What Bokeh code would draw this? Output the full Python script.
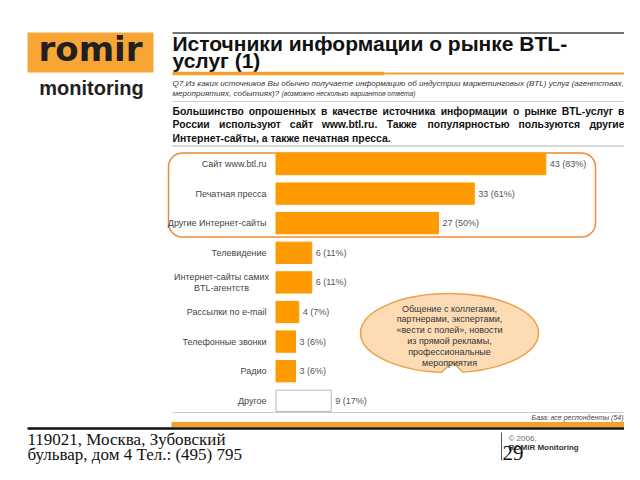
import numpy as np
from bokeh.plotting import figure
from bokeh.models import Range1d, ColumnDataSource
from bokeh.core.properties import value
from bokeh.embed import file_html
from bokeh.resources import INLINE

# ---------------- data ----------------
categories = ["Сайт www.btl.ru", "Печатная пресса", "Другие Интернет-сайты",
              "Телевидение", "Интернет-сайты самих\nBTL-агентств", "Рассылки по e-mail",
              "Телефонные звонки", "Радио", "Другое"]
counts = [43, 33, 27, 6, 6, 4, 3, 3, 9]
percents = [83, 61, 50, 11, 11, 7, 6, 6, 17]

title_lines = ["Источники информации о рынке BTL-", "услуг (1)"]
question_lines = ["Q7.Из каких источников Вы обычно получаете информацию об индустрии маркетинговых (BTL) услуг (агентствах,",
                  "мероприятиях, событиях)?"]
question_note = "(возможно несколько вариантов ответа)"
summary_lines = ["Большинство опрошенных в качестве источника информации о рынке BTL-услуг в",
                 "России используют сайт www.btl.ru. Также популярностью пользуются другие",
                 "Интернет-сайты, а также печатная пресса."]
bubble_lines = ["Общение с коллегами,", "партнерами, экспертами,", "«вести с полей», новости",
                "из прямой рекламы,", "профессиональные", "мероприятия"]
base_note = "База: все респонденты (54)"
address_lines = ["119021, Москва, Зубовский", "бульвар, дом 4 Тел.: (495) 795"]

SANS = value("Liberation Sans")
SERIF = value("Liberation Serif")
ORANGE = "#FF9900"
LINE_ORANGE = "#F5A02A"

# ---------------- page figure (data coords == picture pixels) ----------------
W, H = 624, 464
p = figure(width=W, height=H, output_backend="svg", toolbar_location=None,
           x_range=Range1d(0, W), y_range=Range1d(H, 0),
           x_axis_type=None, y_axis_type=None, min_border=0)
p.outline_line_color = None
p.grid.visible = False
p.background_fill_color = "white"
p.border_fill_color = "white"

# bar scales
X0, PXPCT = 275.5, 3.25
Y0, ROWH = 163.5, 29.6
p.extra_x_ranges = {"pct": Range1d((0 - X0) / PXPCT, (W - X0) / PXPCT)}
p.extra_y_ranges = {"row": Range1d((H - Y0) / ROWH, (0 - Y0) / ROWH)}

def mid(baseline, fs):
    # vertical centre used with text_baseline="middle" for a given baseline
    return baseline - 0.36 * fs

# ---- logo ----
p.quad(left=[27], right=[153], top=[32], bottom=[72], fill_color="#F7A535", line_color=None)
p.text(x=[90], y=[mid(61, 34)], text=["romir"], text_font=value("DejaVu Sans"), text_font_style="bold",
       text_font_size="34px", text_align="center", text_baseline="middle", text_color="#231F20")
p.text(x=[91], y=[mid(94.5, 20)], text=["monitoring"], text_font=SANS, text_font_style="bold",
       text_font_size="20px", text_align="center", text_baseline="middle", text_color="#231F20")

# ---- title area ----
p.segment(x0=[172], y0=[32.5], x1=[624], y1=[32.5], line_color="#444444", line_width=1.5)
p.text(x=[172, 172], y=[mid(50.5, 21), mid(68, 21)], text=title_lines, text_font=SANS,
       text_font_style="bold", text_font_size="21px", text_baseline="middle", text_color="#111111")
p.segment(x0=[172], y0=[73], x1=[384], y1=[73], line_color=LINE_ORANGE, line_width=3.5)
p.segment(x0=[384], y0=[73], x1=[624], y1=[73], line_color=LINE_ORANGE, line_width=2)
p.text(x=[172, 172], y=[83, 93], text=question_lines, text_font=SANS, text_font_style="italic",
       text_font_size="8.1px", text_baseline="middle", text_color="#333333")
p.text(x=[281], y=[93], text=[question_note], text_font=SANS, text_font_style="italic",
       text_font_size="6.8px", text_baseline="middle", text_color="#333333")
p.segment(x0=[172], y0=[101], x1=[624], y1=[101], line_color="#CCCCCC", line_width=1)

# justified bold summary (approximate Arial-bold advance widths, 1/1000 em)
WID = {}
WID.update(dict(zip("абвгдежзийклмнопрстуфхцчшщъыьэюя",
                    [556, 611, 578, 427, 633, 556, 833, 490, 611, 611, 510, 611, 730, 611, 611, 611,
                     611, 556, 474, 556, 889, 556, 633, 573, 889, 906, 719, 812, 573, 556, 858, 594])))
WID.update(dict(zip("abcdefghijklmnopqrstuvwxyz",
                    [556, 611, 556, 611, 556, 333, 611, 611, 278, 278, 556, 278, 889, 611, 611, 611,
                     611, 389, 556, 333, 611, 556, 778, 556, 556, 500])))
WID.update({"Б": 722, "И": 722, "Р": 667, "Т": 611, "B": 722, "T": 611, "L": 611,
            ".": 278, ",": 278, "-": 333})

def word_width(w, fs):
    return sum(WID.get(c, 600) for c in w) * fs / 1000.0

FS = 10.4
LEFT, RIGHT = 172, 624
sum_y = [110.5, 124, 137.5]
wx, wy, wt, wa = [], [], [], []
for k, line in enumerate(summary_lines):
    words = line.split(" ")
    if k < len(summary_lines) - 1:
        widths = [word_width(w, FS) for w in words]
        gap = (RIGHT - LEFT - sum(widths)) / (len(words) - 1)
        x = LEFT
        for j, w in enumerate(words):
            last = j == len(words) - 1
            wx.append(RIGHT if last else x)
            wy.append(sum_y[k])
            wt.append(w)
            wa.append("right" if last else "left")
            x += widths[j] + gap
    else:
        wx.append(LEFT); wy.append(sum_y[k]); wt.append(line); wa.append("left")
p.text(x=wx, y=wy, text=wt, text_align=wa, text_font=SANS, text_font_style="bold",
       text_font_size=f"{FS}px", text_baseline="middle", text_color="#111111")
p.segment(x0=[172], y0=[145.5], x1=[624], y1=[145.5], line_color="#CCCCCC", line_width=1.5)

# ---- highlight rounded box ----
def rounded_box(x0, y0, x1, y1, r, n=12):
    xs, ys = [], []
    corners = [(x1 - r, y0 + r, -90, 0), (x1 - r, y1 - r, 0, 90),
               (x0 + r, y1 - r, 90, 180), (x0 + r, y0 + r, 180, 270)]
    for cx, cy, a0, a1 in corners:
        t = np.radians(np.linspace(a0, a1, n))
        xs.extend(cx + r * np.cos(t))
        ys.extend(cy + r * np.sin(t))
    return xs, ys

bx, by = rounded_box(168, 152.5, 595, 236.5, 14)
p.patch(bx, by, fill_color=None, line_color="#EE8A3A", line_width=1.5)

# ---- bars ----
rows = list(range(len(categories)))
bar_src = ColumnDataSource(dict(
    row=rows, pct=percents,
    fill=[ORANGE] * (len(categories) - 1) + ["white"],
    line=[ORANGE] * (len(categories) - 1) + ["#BBBBBB"],
    label=[f"{c} ({v}%)" for c, v in zip(counts, percents)],
))
p.hbar(y="row", left=0, right="pct", height=0.72, fill_color="fill", line_color="line",
       source=bar_src, x_range_name="pct", y_range_name="row")
p.text(x="pct", y="row", text="label", x_offset=4, source=bar_src, x_range_name="pct",
       y_range_name="row", text_font=SANS, text_font_size="9px", text_baseline="middle",
       text_color="#555555")

single = [i for i, c in enumerate(categories) if "\n" not in c]
multi = [i for i, c in enumerate(categories) if "\n" in c]
p.text(x=[266] * len(single), y=single, text=[categories[i] for i in single], y_range_name="row",
       text_font=SANS, text_font_size="9px", text_align="right", text_baseline="middle",
       text_color="#444444")
for i in multi:
    parts = categories[i].split("\n")
    p.text(x=[221] * len(parts), y=[i - 0.19, i + 0.19], text=parts, y_range_name="row",
           text_font=SANS, text_font_size="9px", text_align="center", text_baseline="middle",
           text_color="#444444")

# ---- speech bubble ----
p.ellipse(x=[449], y=[332.5], width=[178], height=[79], fill_color="#FDDCB5",
          line_color="#EBA24A", line_width=1.5)
p.patch([437, 452, 466], [376, 361.5, 376], fill_color="white", line_color=None)
p.line([440.5, 452, 462.5], [372.2, 361.5, 371.8], line_color="#EBA24A", line_width=1.5)
p.text(x=[449] * len(bubble_lines), y=[308 + 10.8 * k for k in range(len(bubble_lines))],
       text=bubble_lines, text_font=SANS, text_font_size="9px", text_align="center",
       text_baseline="middle", text_color="#333333")

# ---- bottom area ----
p.segment(x0=[172], y0=[412], x1=[624], y1=[412], line_color="#CCCCCC", line_width=1)
p.text(x=[623], y=[417], text=[base_note], text_font=SANS, text_font_style="italic",
       text_font_size="7px", text_align="right", text_baseline="middle", text_color="#444444")
p.segment(x0=[171], y0=[424], x1=[624], y1=[424], line_color=LINE_ORANGE, line_width=5)
p.segment(x0=[27], y0=[428], x1=[624], y1=[428], line_color="#111111", line_width=2.5)

p.segment(x0=[501], y0=[432], x1=[501], y1=[460], line_color="#555555", line_width=1)
p.text(x=[508], y=[437.5], text=["© 2006,"], text_font=SANS, text_font_size="8px",
       text_baseline="middle", text_color="#666666")
p.text(x=[508], y=[446.5], text=["ROMIR Monitoring"], text_font=SANS, text_font_style="bold",
       text_font_size="8px", text_baseline="middle", text_color="#333333")
p.text(x=[502], y=[452.5], text=["29"], text_font=SERIF, text_font_size="21px",
       text_baseline="middle", text_color="#111111")

p.text(x=[27, 27], y=[439, 454], text=address_lines, text_font=SERIF, text_font_size="17px",
       text_baseline="middle", text_color="#111111")

open("out.html", "w").write(file_html(p, INLINE))
